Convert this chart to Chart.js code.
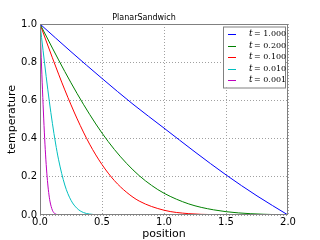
<!DOCTYPE html>
<html>
<head>
<meta charset="utf-8">
<script src="https://cdn.jsdelivr.net/npm/chart.js@4/dist/chart.umd.min.js"></script>
<style>
  html, body { margin: 0; padding: 0; background: #fff; }
  #wrap { width: 320px; height: 240px; }
</style>
</head>
<body>
<div id="wrap"><canvas id="chart1" width="320" height="240"></canvas></div>
<script>
// series names (legend order)
const seriesNames = ['t = 1.000', 't = 0.200', 't = 0.100', 't = 0.010', 't = 0.001'];
const seriesColors = ['#0000ff', '#008000', '#ff0000', '#00bfbf', '#bf00bf'];

// t = 1.000
const xBlue = [0, 0.25, 0.5, 0.75, 1.0, 1.25, 1.5, 1.75, 2.0];
const yBlue = [1.0, 0.855, 0.715, 0.58, 0.455, 0.33, 0.21, 0.10, 0.0];

// t = 0.200
const xGreen = [0, 0.1, 0.2, 0.3, 0.4, 0.5, 0.6, 0.7, 0.8, 0.9, 1.0, 1.2, 1.4, 1.6, 1.8, 2.0];
const yGreen = [1.0, 0.874, 0.751, 0.635, 0.527, 0.429, 0.343, 0.269, 0.206, 0.155, 0.114, 0.058, 0.027, 0.011, 0.004, 0.0];

// t = 0.100
const xRed = [0, 0.1, 0.2, 0.3, 0.4, 0.5, 0.6, 0.7, 0.8, 1.0, 1.2, 1.4, 1.6, 2.0];
const yRed = [1.0, 0.823, 0.655, 0.503, 0.371, 0.264, 0.18, 0.118, 0.073, 0.025, 0.007, 0.002, 0.0, 0.0];

// t = 0.010
const xCyan = [0, 0.025, 0.05, 0.075, 0.1, 0.125, 0.15, 0.2, 0.25, 0.3, 0.35, 0.4, 0.5, 1.0, 2.0];
const yCyan = [1.0, 0.86, 0.724, 0.596, 0.48, 0.377, 0.289, 0.157, 0.077, 0.034, 0.013, 0.005, 0.0, 0.0, 0.0];

// t = 0.001
const xMagenta = [0, 0.01, 0.02, 0.03, 0.04, 0.05, 0.06, 0.07, 0.08, 0.1, 0.12, 0.14, 0.16, 2.0];
const yMagenta = [1.0, 0.823, 0.655, 0.503, 0.371, 0.264, 0.18, 0.118, 0.073, 0.025, 0.007, 0.002, 0.0, 0.0];

const xTicks = [0, 0.5, 1.0, 1.5, 2.0];
const yTicks = [0, 0.2, 0.4, 0.6, 0.8, 1.0];

function pts(xs, ys) {
    return xs.map(function(x, i) { return {x: x, y: ys[i]}; });
}

const allX = [xBlue, xGreen, xRed, xCyan, xMagenta];
const allY = [yBlue, yGreen, yRed, yCyan, yMagenta];

const datasets = seriesNames.map(function(name, i) {
    return {
        label: name,
        data: pts(allX[i], allY[i]),
        borderColor: seriesColors[i],
        backgroundColor: seriesColors[i],
        borderWidth: 1,
        pointRadius: 0,
        fill: false,
        cubicInterpolationMode: 'monotone'
    };
});

// frame round the plot area + legend box in the upper right
const framePlugin = {
    id: 'frame',
    afterDatasetsDraw: function(chart) {
        const ctx = chart.ctx;
        const a = chart.chartArea;
        ctx.save();
        ctx.strokeStyle = '#808080';
        ctx.lineWidth = 1;
        ctx.strokeRect(a.left + 0.5, a.top + 0.5, a.right - a.left - 1, a.bottom - a.top - 1);

        // legend
        const bx = a.right - 65, by = a.top + 2.5, bw = 62, bh = 61;
        ctx.fillStyle = '#fff';
        ctx.fillRect(bx, by, bw, bh);
        ctx.strokeStyle = '#808080';
        ctx.strokeRect(bx + 0.5, by + 0.5, bw, bh);
        chart.data.datasets.forEach(function(ds, i) {
            const y = by + 7.5 + i * 11.5;
            ctx.strokeStyle = ds.borderColor;
            ctx.lineWidth = 1;
            ctx.beginPath();
            ctx.moveTo(bx + 5, Math.round(y) + 0.5);
            ctx.lineTo(bx + 13, Math.round(y) + 0.5);
            ctx.stroke();
            const parts = ds.label.split(' = ');
            ctx.fillStyle = '#000';
            ctx.textBaseline = 'middle';
            ctx.textAlign = 'left';
            ctx.font = 'italic 9px "DejaVu Serif"';
            ctx.fillText(parts[0], bx + 26, y);
            ctx.font = '8px "DejaVu Serif"';
            ctx.fillText('= ' + parts[1], bx + 31, y);
        });
        ctx.restore();
    }
};

const ctx1 = document.getElementById('chart1').getContext('2d');
const chart1 = new Chart(ctx1, {
    type: 'line',
    data: { datasets: datasets },
    plugins: [framePlugin],
    options: {
        responsive: false,
        animation: false,
        layout: { padding: { left: 0, right: 32, top: 0, bottom: 0 } },
        plugins: {
            legend: { display: false },
            tooltip: { enabled: false },
            title: {
                display: true,
                text: 'PlanarSandwich',
                color: '#000',
                font: { family: 'DejaVu Sans', size: 8, weight: 'normal', lineHeight: 1.2 },
                padding: { top: 13, bottom: 1.4 }
            }
        },
        scales: {
            x: {
                type: 'linear',
                min: 0,
                max: 2,
                afterFit: function(scale) { scale.height = 25; },
                afterBuildTicks: function(scale) {
                    scale.ticks = xTicks.map(function(v) { return {value: v}; });
                },
                ticks: {
                    color: '#000',
                    font: { family: 'DejaVu Sans', size: 10 },
                    padding: 1,
                    maxRotation: 0,
                    autoSkip: false,
                    callback: function(v) { return Number(v).toFixed(1); }
                },
                grid: { color: '#a0a0a0', drawTicks: false, lineWidth: 1 },
                border: { display: false, dash: [1, 2] },
                title: {
                    display: true,
                    text: 'position',
                    color: '#000',
                    font: { family: 'DejaVu Sans', size: 11, lineHeight: 1.0 },
                    padding: { top: 0, bottom: 0 }
                }
            },
            y: {
                type: 'linear',
                min: 0,
                max: 1,
                afterFit: function(scale) { scale.width = 40; },
                afterBuildTicks: function(scale) {
                    scale.ticks = yTicks.map(function(v) { return {value: v}; });
                },
                ticks: {
                    color: '#000',
                    font: { family: 'DejaVu Sans', size: 10 },
                    padding: 3,
                    autoSkip: false,
                    callback: function(v) { return Number(v).toFixed(1); }
                },
                grid: { color: '#a0a0a0', drawTicks: false, lineWidth: 1 },
                border: { display: false, dash: [1, 2] },
                title: {
                    display: true,
                    text: 'temperature',
                    color: '#000',
                    font: { family: 'DejaVu Sans', size: 11, lineHeight: 1.2 },
                    padding: { top: 6, bottom: 0 }
                }
            }
        }
    }
});
</script>
</body>
</html>
